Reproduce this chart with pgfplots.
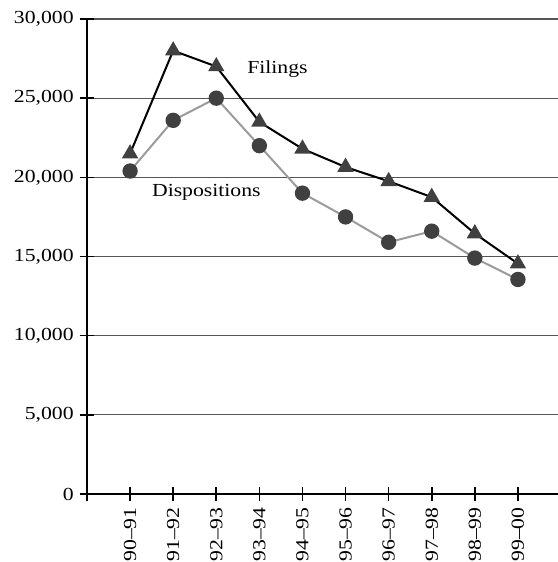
\documentclass[border=0pt]{standalone}
\usepackage{fontspec}
\setmainfont{Liberation Serif}[FakeStretch=1.18]
\usepackage{pgfplots}
\pgfplotsset{compat=1.18}
\definecolor{markgray}{RGB}{64,64,64}
\definecolor{linegray}{RGB}{155,155,155}
\definecolor{gridgray}{RGB}{85,85,85}

\begin{document}
\begin{tikzpicture}[x=1pt,y=1pt]
\useasboundingbox (-65.25,-51) rectangle (353.25,370.5);
\begin{axis}[
    at={(0,0)}, anchor=south west,
    width=353.25pt, height=356.25pt,
    scale only axis,
    xmin=-1, xmax=9.93,
    ymin=0, ymax=30000,
    axis x line*=bottom,
    axis y line*=left,
    axis line style={-},
    x axis line style={line width=1.5pt},
    y axis line style={line width=1.2pt},
    xtick={-1,0,...,9},
    xticklabels={,90–91,91–92,92–93,93–94,94–95,95–96,96–97,97–98,98–99,99–00},
    ytick={0,5000,...,30000},
    scaled y ticks=false,
    yticklabel={\pgfmathprintnumber[fixed,1000 sep={,}]{\tick}},
    tick align=center,
    major tick length=11pt,
    tick style={black, line width=1.2pt},
    xticklabel style={rotate=90, anchor=east},
    xticklabel shift=1pt,
    yticklabel shift=1pt,
    ymajorgrids=true,
    grid style={gridgray, line width=0.8pt},
    font=\fontsize{13.8}{16}\selectfont,
    /pgf/number format/assume math mode=true,
]
% Dispositions
\addplot[linegray, line width=1.5pt, mark=*, mark size=5pt,
    mark options={fill=markgray, draw=markgray}] coordinates {
    (0,20400) (1,23600) (2,25000) (3,22000) (4,19000)
    (5,17500) (6,15900) (7,16600) (8,14900) (9,13550)
};
% Filings
\addplot[black, line width=1.5pt, mark=triangle*, mark size=5.6pt,
    mark options={fill=markgray, draw=markgray}] coordinates {
    (0,21500) (1,28000) (2,27000) (3,23500) (4,21800)
    (5,20650) (6,19750) (7,18750) (8,16450) (9,14550)
};
\node at (axis cs:3.42,26830) {Filings};
\node at (axis cs:1.77,19050) {Dispositions};
\end{axis}
\end{tikzpicture}
\end{document}
